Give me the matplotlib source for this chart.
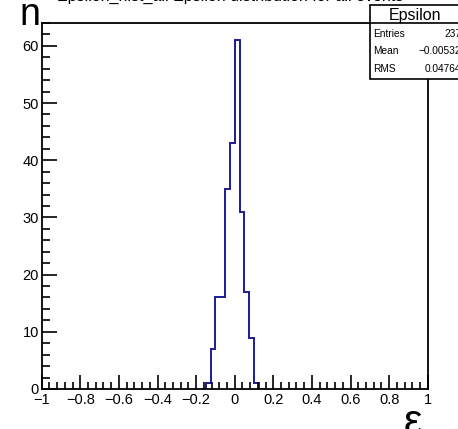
"""
Epsilon histogram, ROOT-style frame with stats box.
"""
import matplotlib
matplotlib.use("Agg")
import matplotlib.pyplot as plt
from matplotlib.patches import Rectangle
from matplotlib.ticker import MultipleLocator, FuncFormatter
import numpy as np

plt.rcParams["font.family"] = ["Liberation Sans", "DejaVu Sans"]

# ── data ─────────────────────────────────────────────────────────────────────
BIN_W = 0.025
FIRST_EDGE = -0.15
counts = [1, 7, 16, 16, 35, 43, 61, 31, 17, 9, 1]
stats_names = ["Entries", "Mean", "RMS"]
stats_vals = ["237", "\u22120.00532", "0.04764"]

edges = FIRST_EDGE + BIN_W * np.arange(len(counts) + 1)

# ── canvas ───────────────────────────────────────────────────────────────────
W, H = 458, 429
fig = plt.figure(figsize=(W / 100, H / 100), dpi=100)
fig.patch.set_facecolor("white")
ax = fig.add_axes([41.7 / W, (H - 389) / H, (427.7 - 41.7) / W, (389 - 22.7) / H])

ax.stairs(counts, edges, color="#1c1c96", lw=1.4, baseline=0)
ax.set_xlim(-1, 1)
ax.set_ylim(0, 64.05)

ax.xaxis.set_major_locator(MultipleLocator(0.2))
ax.xaxis.set_minor_locator(MultipleLocator(0.04))
ax.yaxis.set_major_locator(MultipleLocator(10))
ax.yaxis.set_minor_locator(MultipleLocator(2))
ax.xaxis.set_major_formatter(
    FuncFormatter(lambda v, p: f"{round(v, 1):g}".replace("-", "\u2212")))
ax.tick_params(which="both", direction="in", top=False, right=False,
               labelsize=10.5, width=1.2, color="black")
ax.tick_params(axis="y", which="major", length=11, pad=2)
ax.tick_params(axis="y", which="minor", length=6)
ax.tick_params(axis="x", which="major", length=10, pad=3)
ax.tick_params(axis="x", which="minor", length=5)
for s in ax.spines.values():
    s.set_linewidth(1.3)

# ── overlay in pixel coords ──────────────────────────────────────────────────
ov = fig.add_axes([0, 0, 1, 1], facecolor="none")
ov.set_xlim(0, W)
ov.set_ylim(H, 0)
ov.axis("off")

# axis titles
ov.text(19, 25, "n", fontsize=27, ha="left", va="baseline")
ov.text(404, 434, "\u03b5", fontsize=30, ha="left", va="baseline")

# clipped histogram title at the very top
ov.text(230, 0.5, "Epsilon_hist_all Epsilon distribution for all events",
        fontsize=11.5, ha="center", va="baseline")

# stats box
ov.add_patch(Rectangle((370, 5), 100, 74, facecolor="white",
                       edgecolor="black", lw=1.2, zorder=5))
ov.plot([370, 470], [22.7, 22.7], color="black", lw=1.2, zorder=6)
ov.text(415, 20, "Epsilon", fontsize=11.5, ha="center", va="baseline", zorder=7)
for i, (nm, vl) in enumerate(zip(stats_names, stats_vals)):
    y = 37 + i * 17.5
    ov.text(373, y, nm, fontsize=7.3, ha="left", va="baseline", zorder=7)
    ov.text(461, y, vl, fontsize=7.3, ha="right", va="baseline", zorder=7)

fig.savefig("out.png", dpi=100, facecolor="white")
